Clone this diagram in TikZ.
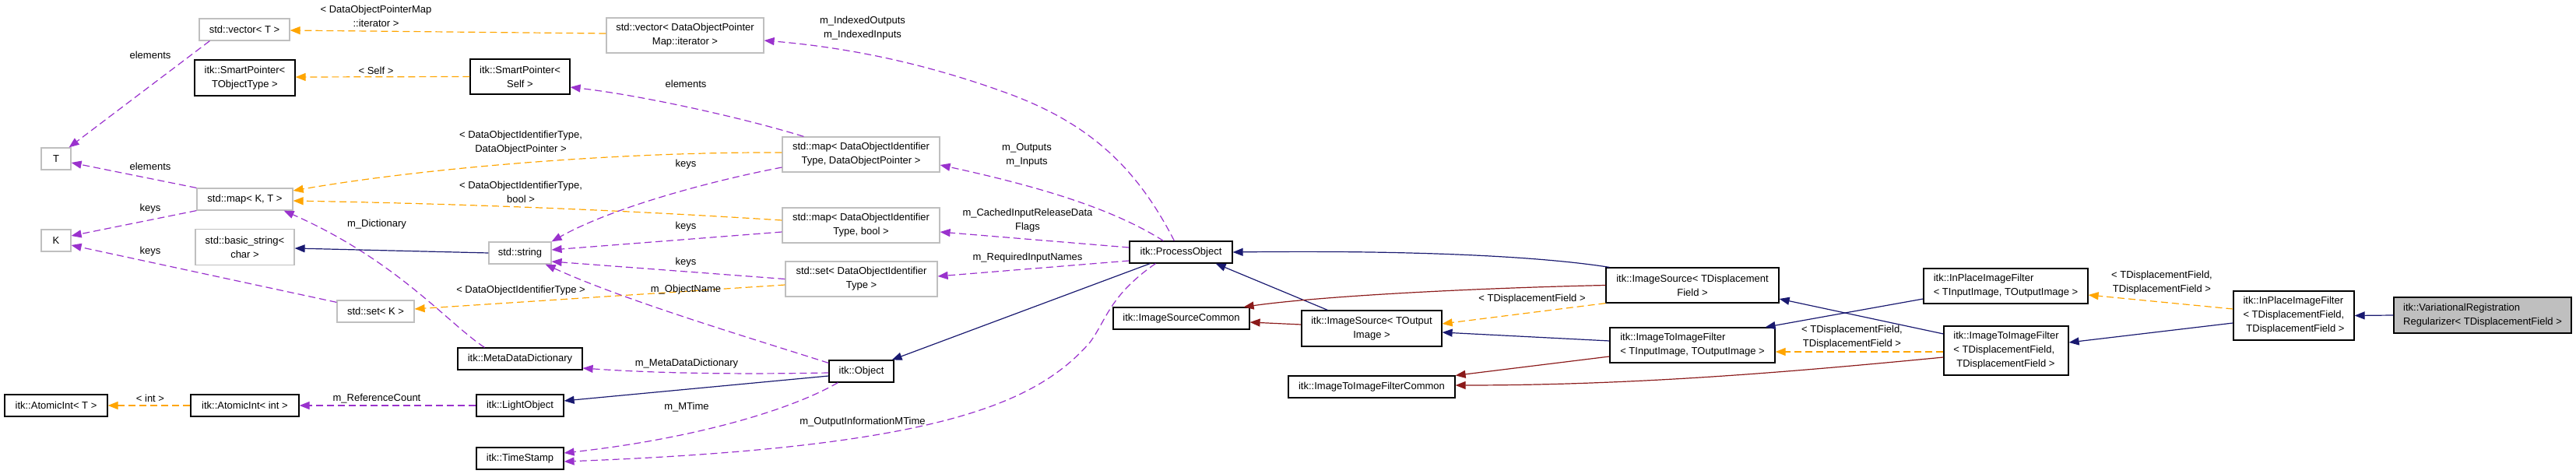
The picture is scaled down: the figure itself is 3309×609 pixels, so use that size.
\documentclass[tikz,border=0pt]{standalone}
\usepackage{fontspec}
\setmainfont{Liberation Sans}
\usepackage{tikz}
\usetikzlibrary{arrows.meta,calc}

\definecolor{dxnavy}{HTML}{191970}
\definecolor{dxred}{HTML}{8B1A1A}
\definecolor{dxpurple}{HTML}{9A32CD}
\definecolor{dxorange}{HTML}{FFA500}
\definecolor{dxgrey}{HTML}{BFBFBF}

\newcommand{\dxfont}{\fontsize{13}{18}\selectfont}

\tikzset{
  cls/.style={draw=black, fill=white, line width=1.2pt, inner sep=0pt, font=\dxfont, align=center},
  extcls/.style={cls, draw=dxgrey},
  lbl/.style={font=\dxfont, align=center, inner sep=0pt},
  dxtip/.style={-{Triangle[length=13pt,width=10pt]}},
  pubinh/.style={draw=dxnavy, line width=1.2pt, dxtip},
  privinh/.style={draw=dxred, line width=1.2pt, dxtip},
  usage/.style={draw=dxpurple, line width=1.2pt, dash pattern=on 9pt off 5pt, dxtip},
  tmpl/.style={draw=dxorange, line width=1.2pt, dash pattern=on 9pt off 5pt, dxtip},
}

\begin{document}
\begin{tikzpicture}[x=1pt,y=-1pt]
                \useasboundingbox (0,0) rectangle (3309,609);
                % left column
                \node[extcls, minimum width=38pt, minimum height=28pt] (T) at (72,204) {T};
                \node[extcls, minimum width=38pt, minimum height=28pt] (K) at (72,309) {K};
                \node[cls, minimum width=132pt, minimum height=28pt] (aiT) at (72,521) {itk::AtomicInt< T >};
                % second column
                \node[extcls, minimum width=116pt, minimum height=28pt] (vecT) at (314,38) {std::vector< T >};
                \node[cls, minimum width=129pt, minimum height=46pt] (spTObj) at (314.5,100) {itk::SmartPointer<\\TObjectType >};
                \node[extcls, minimum width=123pt, minimum height=28pt] (mapKT) at (314.5,256) {std::map< K, T >};
                \node[extcls, minimum width=127pt, minimum height=46pt] (basicStr) at (314.5,317.5) {std::basic\_string<\\char >};
                \node[cls, minimum width=139pt, minimum height=28pt] (aiInt) at (314.5,521) {itk::AtomicInt< int >};
                \node[extcls, minimum width=99pt, minimum height=28pt] (setK) at (482.5,400) {std::set< K >};
                % third column
                \node[cls, minimum width=128pt, minimum height=45pt] (spSelf) at (668,98.5) {itk::SmartPointer<\\Self >};
                \node[extcls, minimum width=80pt, minimum height=28pt] (stdStr) at (668,325) {std::string};
                \node[cls, minimum width=160pt, minimum height=28pt] (mdd) at (668,461) {itk::MetaDataDictionary};
                \node[cls, minimum width=112pt, minimum height=28pt] (lightObj) at (668,521) {itk::LightObject};
                \node[cls, minimum width=112pt, minimum height=28pt] (timeStamp) at (668,589) {itk::TimeStamp};
                \node[extcls, minimum width=202pt, minimum height=45pt] (vecDOP) at (880,45.5) {std::vector< DataObjectPointer\\Map::iterator >};
                % fourth column
                \node[extcls, minimum width=202pt, minimum height=45pt] (mapDOP) at (1106,198.5) {std::map< DataObjectIdentifier\\Type, DataObjectPointer >};
                \node[extcls, minimum width=202pt, minimum height=45pt] (mapBool) at (1106,289.5) {std::map< DataObjectIdentifier\\Type, bool >};
                \node[extcls, minimum width=195pt, minimum height=45pt] (setDOI) at (1106.5,358.5) {std::set< DataObjectIdentifier\\Type >};
                \node[cls, minimum width=83pt, minimum height=28pt] (obj) at (1106.5,477) {itk::Object};
                % filters
                \node[cls, minimum width=132pt, minimum height=28pt] (procObj) at (1517,324) {itk::ProcessObject};
                \node[cls, minimum width=175pt, minimum height=28pt] (isCommon) at (1517.5,409) {itk::ImageSourceCommon};
                \node[cls, minimum width=180pt, minimum height=46pt] (isOut) at (1762,422) {itk::ImageSource< TOutput\\Image >};
                \node[cls, minimum width=214pt, minimum height=28pt] (itiCommon) at (1762,497) {itk::ImageToImageFilterCommon};
                \node[cls, minimum width=222pt, minimum height=45pt] (isDisp) at (2174,366.5) {itk::ImageSource< TDisplacement\\Field >};
                \node[cls, minimum width=212pt, minimum height=45pt, align=left] (itiInOut) at (2174,443.5) {itk::ImageToImageFilter\\< TInputImage, TOutputImage >};
                \node[cls, minimum width=211pt, minimum height=45pt, align=left] (ipInOut) at (2576.5,367.5) {itk::InPlaceImageFilter\\< TInputImage, TOutputImage >};
                \node[cls, minimum width=160pt, minimum height=63pt, align=left] (itiDisp) at (2577,450.5) {itk::ImageToImageFilter\\< TDisplacementField,\\\hspace*{0.3em}TDisplacementField >};
                \node[cls, minimum width=155pt, minimum height=63pt, align=left] (ipDisp) at (2946.5,405.5) {itk::InPlaceImageFilter\\< TDisplacementField,\\\hspace*{0.3em}TDisplacementField >};
                \node[cls, fill=dxgrey, minimum width=228pt, minimum height=46pt, align=left] (varReg) at (3189,405) {itk::VariationalRegistration\\Regularizer< TDisplacementField >};

                % templates
                \draw[tmpl] ($(vecDOP.west)+(0,-2.5)$) -- ($(vecT.east)+(0,1)$);
                \draw[tmpl] (spSelf.west) -- ($(spTObj.east)+(0,-1)$);
                \draw[tmpl] ($(mapDOP.west)+(0,-2.5)$) .. controls (800,195) and (550,215) .. ($(mapKT.east)+(0,-11)$);
                \draw[tmpl] ($(mapBool.west)+(0,-6.5)$) .. controls (800,270) and (600,262) .. ($(mapKT.east)+(0,2)$);
                \draw[tmpl] ($(setDOI.west)+(0,7.5)$) -- ($(setK.east)+(0,-3)$);
                \draw[tmpl] (aiInt.west) -- (aiT.east);
                \draw[tmpl] (isDisp.south west) -- ($(isOut.east)+(0,-6)$);
                \draw[tmpl] ($(itiDisp.west)+(0,1.5)$) -- ($(itiInOut.east)+(0,8.5)$);
                \draw[tmpl] ($(ipDisp.west)+(0,-8.5)$) -- ($(ipInOut.east)+(0,11.5)$);

                % members
                \draw[usage] ($(vecT.south west)+(14,0)$) -- ($(T.north east)+(-3,0)$);
                \draw[usage] (mapKT.north west) -- ($(T.east)+(0,5)$);
                \draw[usage] (mapKT.south west) -- ($(K.east)+(0,-6)$);
                \draw[usage] ($(setK.north west)+(0,3)$) -- ($(K.east)+(0,6)$);
                \draw[usage] ($(mdd.north west)+(35,0)$) .. controls (575,415) and (510,335) .. ($(mapKT.south east)+(-12,0)$);
                \draw[usage] (lightObj.west) -- (aiInt.east);
                \draw[usage] ($(mapDOP.north west)+(28,0)$) .. controls (950,150) and (820,122) .. ($(spSelf.east)+(0,13.5)$);
                \draw[usage] ($(mapDOP.west)+(0,16.5)$) .. controls (900,235) and (780,270) .. (stdStr.north east);
                \draw[usage] ($(mapBool.west)+(0,8.5)$) -- ($(stdStr.east)+(0,-4)$);
                \draw[usage] (setDOI.west) -- ($(stdStr.east)+(0,11)$);
                \draw[usage] ($(obj.north west)+(0,4)$) .. controls (950,430) and (800,385) .. ($(stdStr.south east)+(-8,0)$);
                \draw[usage] ($(obj.west)+(0,2)$) .. controls (950,481) and (850,480) .. ($(mdd.east)+(0,12)$);
                \draw[usage] ($(obj.south west)+(12,0)$) .. controls (1010,530) and (880,565) .. ($(timeStamp.east)+(0,-7)$);
                \draw[usage] ($(procObj.south west)+(34,0)$) .. controls (1425,380) and (1422,410) .. (1400,440)
                  .. controls (1330,520) and (1200,575) .. ($(timeStamp.east)+(0,4)$);
                \draw[usage] ($(procObj.north west)+(58,0)$) .. controls (1460,215) and (1400,160) .. (1300,122)
                  .. controls (1200,85) and (1100,62) .. ($(vecDOP.east)+(0,6.5)$);
                \draw[usage] ($(procObj.north west)+(44,0)$) .. controls (1440,275) and (1360,245) .. ($(mapDOP.east)+(0,13.5)$);
                \draw[usage] ($(procObj.west)+(0,-6)$) -- ($(mapBool.east)+(0,8.5)$);
                \draw[usage] ($(procObj.west)+(0,11)$) -- ($(setDOI.east)+(0,-3.5)$);

                % public inheritance
                \draw[pubinh] (stdStr.west) -- ($(basicStr.east)+(0,1.5)$);
                \draw[pubinh] ($(obj.west)+(0,6)$) -- ($(lightObj.east)+(0,-6)$);
                \draw[pubinh] ($(procObj.south west)+(27,0)$) -- ($(obj.north east)+(-3,0)$);
                \draw[pubinh] ($(isOut.north west)+(34,0)$) -- ($(procObj.south east)+(-22,0)$);
                \draw[pubinh] ($(isDisp.north west)+(5,0)$) .. controls (1950,325) and (1750,322) .. (procObj.east);
                \draw[pubinh] ($(itiInOut.west)+(0,-5.5)$) -- ($(isOut.east)+(0,5)$);
                \draw[pubinh] ($(itiDisp.west)+(0,-21.5)$) -- ($(isDisp.east)+(0,17.5)$);
                \draw[pubinh] ($(ipInOut.west)+(0,16.5)$) -- ($(itiInOut.north east)+(-13,0)$);
                \draw[pubinh] ($(ipDisp.west)+(0,9.5)$) -- ($(itiDisp.east)+(0,-10.5)$);
                \draw[pubinh] (varReg.west) -- (ipDisp.east);

                % private inheritance
                \draw[privinh] ($(isOut.west)+(0,-5)$) -- ($(isCommon.east)+(0,5)$);
                \draw[privinh] (isDisp.west) .. controls (1900,370) and (1700,380) .. ($(isCommon.north east)+(-8,0)$);
                \draw[privinh] ($(itiInOut.west)+(0,14.5)$) -- (itiCommon.north east);
                \draw[privinh] ($(itiDisp.west)+(0,8.5)$) .. controls (2300,478) and (2100,495) .. ($(itiCommon.east)+(0,-2)$);

                % edge labels
                \node[lbl] (lIter) at (483,21) {< DataObjectPointerMap\\::iterator >};
                \node[lbl] (lElemT) at (193,71) {elements};
                \node[lbl] (lSelf) at (483,91) {< Self >};
                \node[lbl] (lElemMap) at (193,214) {elements};
                \node[lbl] (lKeysMap) at (193,268) {keys};
                \node[lbl] (lKeysSet) at (193,323) {keys};
                \node[lbl] (lDict) at (484,288) {m\_Dictionary};
                \node[lbl] (lInt) at (193,512) {< int >};
                \node[lbl] (lRefCount) at (484,512) {m\_ReferenceCount};
                \node[lbl] (lIndexed) at (1108,36) {m\_IndexedOutputs\\m\_IndexedInputs};
                \node[lbl] (lElemSelf) at (881,108) {elements};
                \node[lbl] (lDoiPtr) at (669,183) {< DataObjectIdentifierType,\\DataObjectPointer >};
                \node[lbl] (lKeysPtr) at (881,211) {keys};
                \node[lbl] (lDoiBool) at (669,247) {< DataObjectIdentifierType,\\bool >};
                \node[lbl] (lKeysBool) at (881,291) {keys};
                \node[lbl] (lKeysDoi) at (881,337) {keys};
                \node[lbl] (lDoi) at (669,373) {< DataObjectIdentifierType >};
                \node[lbl] (lName) at (881,372) {m\_ObjectName};
                \node[lbl] (lMdd) at (882,467) {m\_MetaDataDictionary};
                \node[lbl] (lMTime) at (882,523) {m\_MTime};
                \node[lbl] (lOutMTime) at (1108,542) {m\_OutputInformationMTime};
                \node[lbl] (lOutputs) at (1319,199) {m\_Outputs\\m\_Inputs};
                \node[lbl] (lCached) at (1320,283) {m\_CachedInputReleaseData\\Flags};
                \node[lbl] (lRequired) at (1320,331) {m\_RequiredInputNames};
                \node[lbl] (lDispOne) at (1968,384) {< TDisplacementField >};
                \node[lbl] (lDispTwo) at (2379,433) {< TDisplacementField,\\TDisplacementField >};
                \node[lbl] (lDispThree) at (2777,363) {< TDisplacementField,\\TDisplacementField >};
              \end{tikzpicture}
\end{document}
